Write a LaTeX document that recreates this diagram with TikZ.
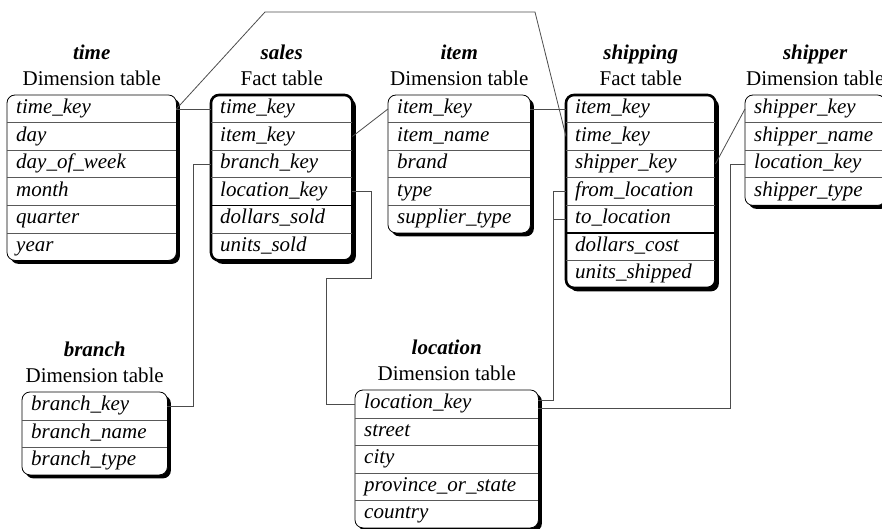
\documentclass[tikz,border=0pt]{standalone}
\usepackage{fontspec}
\setmainfont{Liberation Serif}
\usetikzlibrary{backgrounds}
\usetikzlibrary{fit}
\usetikzlibrary{matrix}
\usetikzlibrary{positioning}
\usetikzlibrary{shadows}

\tikzset{
  cell/.style={font=\fontsize{21}{26}\selectfont\itshape, align=left,
    inner xsep=9pt, inner ysep=3.75pt, text height=15pt, text depth=5pt},
  tablegrid/.style={matrix of nodes, row sep=0pt, inner sep=0pt,
    anchor=north west, nodes={cell, text width=#1}},
  dimbox/.style={draw, line width=0.8pt, rounded corners=8pt, fill=white,
    inner sep=0pt, drop shadow={shadow xshift=3.5pt, shadow yshift=-3.5pt,
    fill=black, opacity=1}},
  factbox/.style={dimbox, line width=2.6pt},
  tabletitle/.style={font=\fontsize{21}{26}\selectfont, align=center, inner sep=0pt},
  rowline/.style={draw=black!65, line width=0.8pt},
  keyline/.style={draw=black, line width=1.5pt},
  keylink/.style={draw=black!70, line width=0.8pt}
}

\begin{document}
\begin{tikzpicture}[x=1pt,y=-1pt]

  \useasboundingbox (0,0) rectangle (882,529);

  \matrix (time) [tablegrid=151pt] at (7,95) {
    time\_key \\ day \\ day\_of\_week \\ month \\ quarter \\ year \\
  };
  \matrix (sales) [tablegrid=123pt] at (211,95) {
    time\_key \\ item\_key \\ branch\_key \\ location\_key \\ dollars\_sold \\ units\_sold \\
  };
  \matrix (item) [tablegrid=124pt] at (388,95) {
    item\_key \\ item\_name \\ brand \\ type \\ supplier\_type \\
  };
  \matrix (shipping) [tablegrid=131pt] at (566,95) {
    item\_key \\ time\_key \\ shipper\_key \\ from\_location \\ to\_location \\
    dollars\_cost \\ units\_shipped \\
  };
  \matrix (shipper) [tablegrid=122pt] at (745,95) {
    shipper\_key \\ shipper\_name \\ location\_key \\ shipper\_type \\
  };
  \matrix (branch) [tablegrid=127pt] at (22,392) {
    branch\_key \\ branch\_name \\ branch\_type \\
  };
  \matrix (location) [tablegrid=165pt] at (355,390) {
    location\_key \\ street \\ city \\ province\_or\_state \\ country \\
  };

  \begin{scope}[on background layer]
    \node [dimbox,  fit=(time)]     {};
    \node [factbox, fit=(sales)]    {};
    \node [dimbox,  fit=(item)]     {};
    \node [factbox, fit=(shipping)] {};
    \node [dimbox,  fit=(shipper)]  {};
    \node [dimbox,  fit=(branch)]   {};
    \node [dimbox,  fit=(location)] {};
  \end{scope}

  \foreach \t/\n in {time/5, sales/5, item/4, shipping/6, shipper/3, branch/2, location/4}
    \foreach \r in {1,...,\n}
      \draw [rowline] (\t-\r-1.south west) -- (\t-\r-1.south east);
  \draw [keyline] (sales-4-1.south west) -- (sales-4-1.south east);
  \draw [keyline] (shipping-5-1.south west) -- (shipping-5-1.south east);

  \node [tabletitle, above=9pt of time]     (time-title)     {\textbf{\textit{time}}\\Dimension table};
  \node [tabletitle, above=9pt of sales]    (sales-title)    {\textbf{\textit{sales}}\\Fact table};
  \node [tabletitle, above=9pt of item]     (item-title)     {\textbf{\textit{item}}\\Dimension table};
  \node [tabletitle, above=9pt of shipping] (shipping-title) {\textbf{\textit{shipping}}\\Fact table};
  \node [tabletitle, above=9pt of shipper]  (shipper-title)  {\textbf{\textit{shipper}}\\Dimension table};
  \node [tabletitle, above=9pt of branch]   (branch-title)   {\textbf{\textit{branch}}\\Dimension table};
  \node [tabletitle, above=9pt of location] (location-title) {\textbf{\textit{location}}\\Dimension table};

  % keys
  \draw [keylink] (time-1-1.east) -- (sales-1-1.west);
  \draw [keylink] (time-1-1.east) -- (265,12) -- (535,12) -- (shipping-2-1.west);
  \draw [keylink] (sales-2-1.east) -- (item-1-1.west);
  \draw [keylink] (item-1-1.east) -- (shipping-1-1.west);
  \draw [keylink] (shipping-3-1.east) -- (shipper-1-1.west);
  \draw [keylink] (sales-3-1.west) -- ++(-18,0) |- (branch-1-1.east);
  \draw [keylink] (sales-4-1.east) -| (371,278) -- (326,278) |- (location-1-1.west);
  \draw [keylink] (shipping-4-1.west) -- ++(-13,0) |- ([yshift=4pt]location-1-1.east);
  \draw [keylink] (shipping-5-1.west) -- ++(-13,0);
  \draw [keylink] (shipper-3-1.west) -- ++(-15,0) |- ([yshift=-4pt]location-1-1.east);

\end{tikzpicture}
\end{document}
